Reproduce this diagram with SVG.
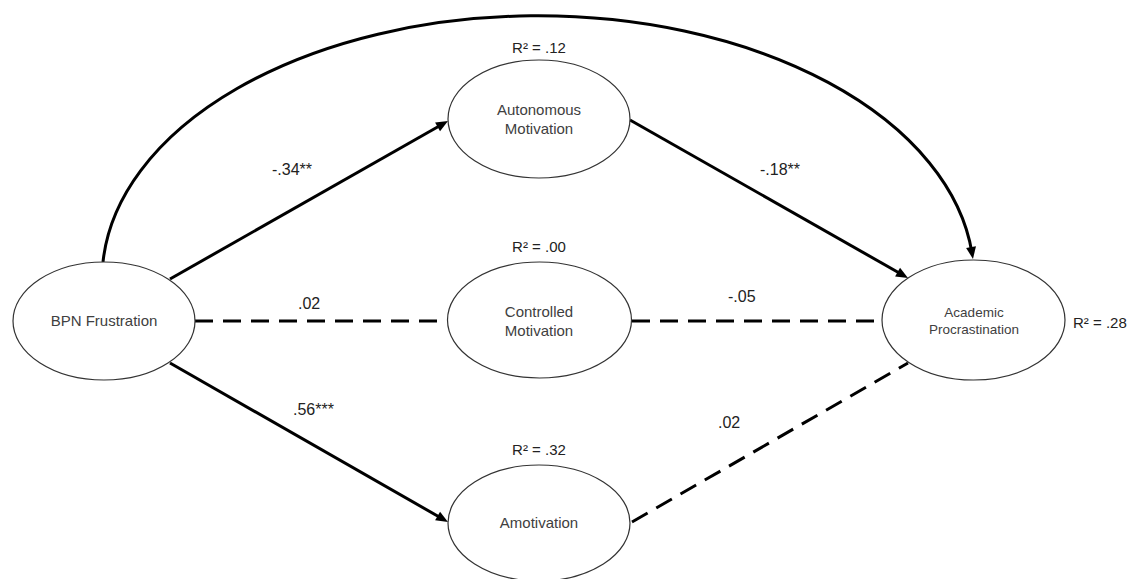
<svg xmlns="http://www.w3.org/2000/svg" width="1135" height="579" viewBox="0 0 1135 579">
<style>
.node ellipse{fill:#fff;stroke:#333;stroke-width:1.2}
.nt{font-family:"Liberation Sans",Arial,sans-serif;font-size:15px;fill:#404040;text-anchor:middle}
.lab{font-family:"Liberation Sans",Arial,sans-serif;font-size:16px;fill:#222}
.r2{font-family:"Liberation Sans",Arial,sans-serif;font-size:15px;fill:#222}
.solid{fill:none;stroke:#000;stroke-width:3;marker-end:url(#arr)}
.dash{fill:none;stroke:#000;stroke-width:3;stroke-dasharray:18 10}
</style>
<defs>
<marker id="arr" markerUnits="userSpaceOnUse" markerWidth="14" markerHeight="12" refX="6" refY="5" orient="auto" overflow="visible">
<path d="M0,0 L12,5 L0,10 z" fill="#000"/>
</marker>
</defs>
<rect width="1135" height="579" fill="#fff"/>
<g id="connectors">
<path class="solid" d="M103,262 A436,263 0 0 1 972,253"/>
<line class="solid" x1="170" y1="279" x2="442.8" y2="124"/>
<line class="solid" x1="170" y1="363" x2="442.8" y2="519"/>
<line class="solid" x1="630" y1="120" x2="902.8" y2="275"/>
<line class="dash" x1="195" y1="321" x2="447" y2="321"/>
<line class="dash" x1="632" y1="321" x2="882" y2="321"/>
<line class="dash" x1="632" y1="522" x2="908" y2="363"/>
</g>
<g id="labels">
<text class="lab" x="272" y="175">-.34**</text>
<text class="lab" x="298" y="309">.02</text>
<text class="lab" x="293" y="415">.56***</text>
<text class="lab" x="760" y="175">-.18**</text>
<text class="lab" x="728" y="302">-.05</text>
<text class="lab" x="718" y="428">.02</text>
</g>
<g id="bpn" class="node">
<ellipse cx="104" cy="321" rx="91" ry="59"/>
<text class="nt" x="104" y="326">BPN Frustration</text>
</g>
<g id="autonomous" class="node">
<ellipse cx="539" cy="119" rx="91" ry="59"/>
<text class="nt" x="539" y="115">Autonomous</text>
<text class="nt" x="539" y="134">Motivation</text>
<text class="r2" x="539" y="53" text-anchor="middle">R² = .12</text>
</g>
<g id="controlled" class="node">
<ellipse cx="539.5" cy="320" rx="92" ry="58"/>
<text class="nt" x="539" y="317">Controlled</text>
<text class="nt" x="539" y="336">Motivation</text>
<text class="r2" x="539" y="252" text-anchor="middle">R² = .00</text>
</g>
<g id="amotivation" class="node">
<ellipse cx="539" cy="523" rx="91" ry="58"/>
<text class="nt" x="539" y="528">Amotivation</text>
<text class="r2" x="539" y="455" text-anchor="middle">R² = .32</text>
</g>
<g id="procrastination" class="node">
<ellipse cx="973.5" cy="320" rx="91.5" ry="60"/>
<text class="nt" x="974" y="317" style="font-size:13.5px">Academic</text>
<text class="nt" x="974" y="334" style="font-size:13.5px">Procrastination</text>
<text class="r2" x="1073" y="328">R² = .28</text>
</g>
</svg>
